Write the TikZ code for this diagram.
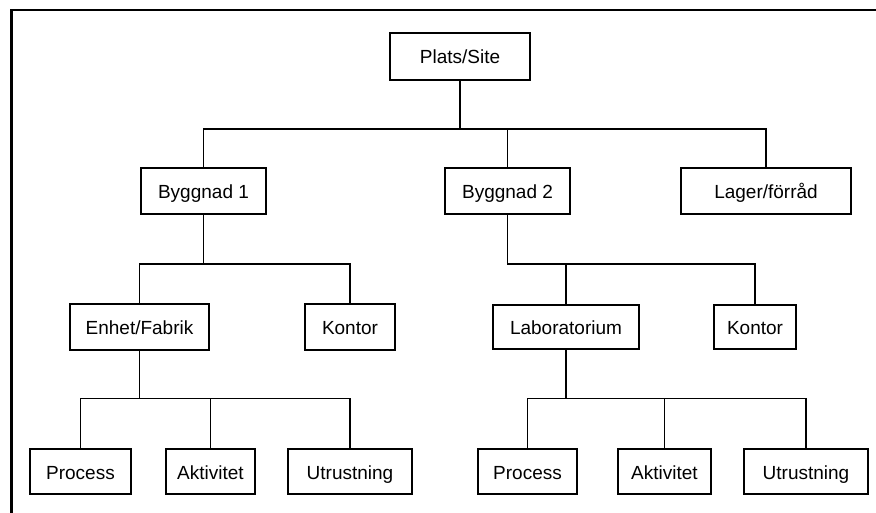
\documentclass[tikz,border=0pt]{standalone}
\usepackage{fontspec}
\setmainfont{Liberation Sans}
\usetikzlibrary{calc}
\usetikzlibrary{positioning}

\begin{document}
\begin{tikzpicture}[
	x=1pt, y=-1pt,
	every node/.style={font=\fontsize{19}{21}\selectfont},
	box/.style = {draw, line width=1.3pt, inner sep=0pt, minimum height=46pt,
		text height=15pt, text depth=0pt},
	link/.style = {line width=1.2pt}
	]
	\useasboundingbox (0,0) rectangle (876,513);
	\draw[line width=2.2pt] (11.5,513) -- (11.5,10) -- (876,10);

	\coordinate (@bus1) at (0,129);
	\coordinate (@bus2) at (0,264);
	\coordinate (@bus3) at (0,398.5);

	\node[box,minimum width=140pt,minimum height=47pt] (site) at (460,56.5) {Plats/Site};

	\node[box,minimum width=125pt] (bygg1) at (203.5,191) {Byggnad 1};
	\node[box,minimum width=125pt] (bygg2) at (507.5,191) {Byggnad 2};
	\node[box,minimum width=170pt] (lager) at (766,191) {Lager/förråd};

	\node[box,minimum width=139pt] (enhet) at (139.5,327) {Enhet/Fabrik};
	\node[box,minimum width=90pt] (kontor1) at (350,327) {Kontor};
	\node[box,minimum width=146pt,minimum height=44pt] (lab) at (566,327) {Laboratorium};
	\node[box,minimum width=82pt,minimum height=44pt] (kontor2) at (755,327) {Kontor};

	\node[box,minimum width=101pt,minimum height=45pt] (proc1) at (80.5,471.5) {Process};
	\node[box,minimum width=89pt,minimum height=45pt] (akt1) at (210.5,471.5) {Aktivitet};
	\node[box,minimum width=124pt,minimum height=45pt] (utr1) at (350,471.5) {Utrustning};
	\node[box,minimum width=99pt,minimum height=45pt] (proc2) at (527.5,471.5) {Process};
	\node[box,minimum width=93pt,minimum height=45pt] (akt2) at (664.5,471.5) {Aktivitet};
	\node[box,minimum width=124pt,minimum height=45pt] (utr2) at (806,471.5) {Utrustning};

	\draw[link] (site) -- (site |- @bus1);
	\draw[link] (bygg1) |- (@bus1 -| lager) -- (lager);
	\draw[link] (bygg2) -- (bygg2 |- @bus1);

	\draw[link] (bygg1) -- (bygg1 |- @bus2);
	\draw[link] (enhet) |- (@bus2 -| kontor1) -- (kontor1);
	\draw[link] (bygg2) |- (@bus2 -| kontor2) -- (kontor2);
	\draw[link] (lab) -- (lab |- @bus2);

	\draw[link] (enhet) -- (enhet |- @bus3);
	\draw[link] (proc1) |- (@bus3 -| utr1) -- (utr1);
	\draw[link] (akt1) -- (akt1 |- @bus3);
	\draw[link] (lab) -- (lab |- @bus3);
	\draw[link] (proc2) |- (@bus3 -| utr2) -- (utr2);
	\draw[link] (akt2) -- (akt2 |- @bus3);

\end{tikzpicture}
\end{document}
